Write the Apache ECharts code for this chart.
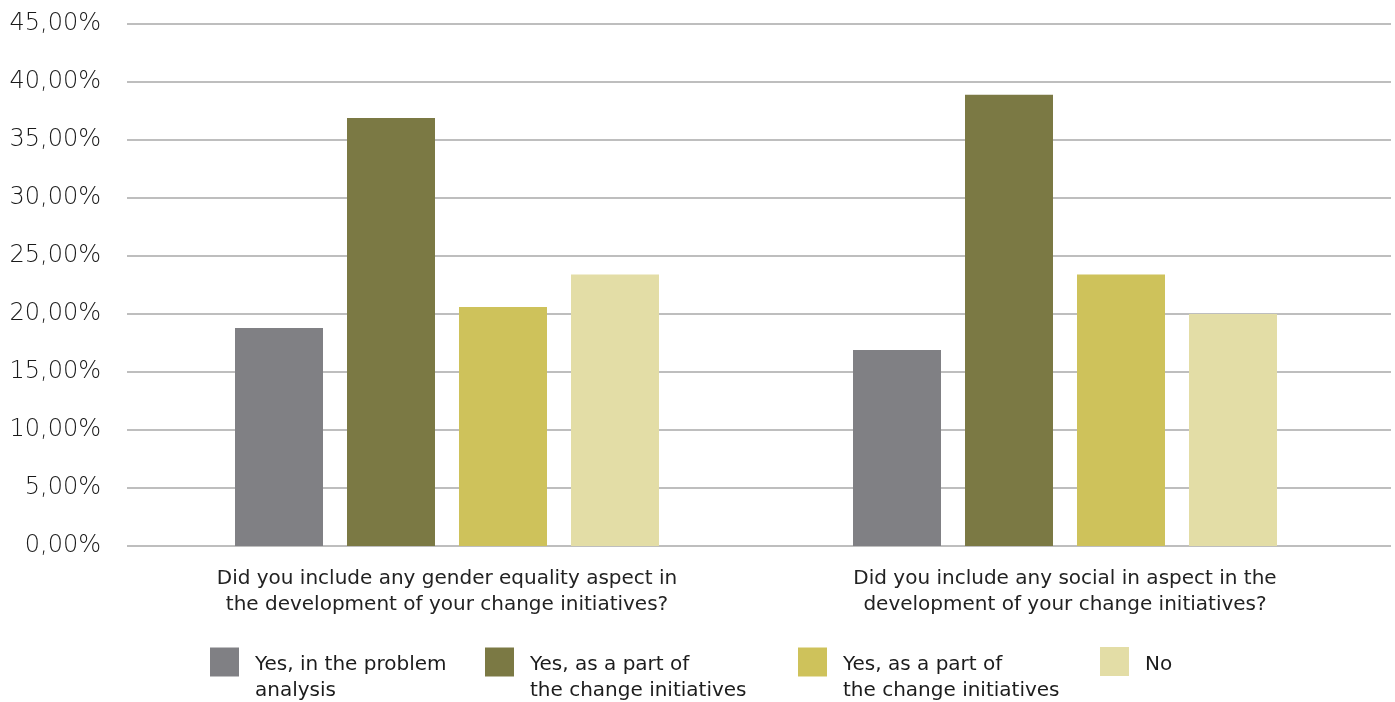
<!DOCTYPE html>
<html>
<head>
<meta charset="utf-8">
<script src="https://cdn.jsdelivr.net/npm/echarts@6/dist/echarts.min.js"></script>
<style>
  html, body { margin: 0; padding: 0; background: #ffffff; }
  #chart { width: 1395px; height: 702px; }
</style>
</head>
<body>
<div id="chart"></div>
<script>
// Survey answers per question (percent of respondents)
const categories = [
  'Did you include any gender equality aspect in\nthe development of your change initiatives?',
  'Did you include any social in aspect in the\ndevelopment of your change initiatives?'
];
const seriesKeys = ['problem', 'partA', 'partB', 'no'];
const legendLabels = [
  'Yes, in the problem\nanalysis',
  'Yes, as a part of\nthe change initiatives',
  'Yes, as a part of\nthe change initiatives',
  'No'
];
const valuesProblem = [18.8, 16.9];
const valuesPartA = [36.9, 38.9];
const valuesPartB = [20.6, 23.4];
const valuesNo = [23.4, 20.0];
const yTicks = [0, 5, 10, 15, 20, 25, 30, 35, 40, 45];

const colors = ['#808084', '#7b7944', '#cec25b', '#e3dda6'];
const seriesValues = [valuesProblem, valuesPartA, valuesPartB, valuesNo];
const yMin = yTicks[0], yMax = yTicks[yTicks.length - 1], yStep = yTicks[1] - yTicks[0];

const fmtPct = v => v.toFixed(2).replace('.', ',') + '%';
const labelFont = '"DejaVu Sans", "Noto Sans", sans-serif';

// Legend entries: first text line sits level with the swatch, second line below it
const legendLeft = [210, 485, 798, 1100];
const legends = seriesKeys.map((key, i) => {
  const twoLine = legendLabels[i].indexOf('\n') >= 0;
  const lines = legendLabels[i].split('\n');
  return {
    data: [key],
    left: legendLeft[i],
    top: twoLine ? 626 : 647,
    padding: 0,
    icon: 'rect',
    itemWidth: 29,
    itemHeight: 29,
    selectedMode: false,
    formatter: () => twoLine
      ? '{s| }\n' + lines.map(l => '{t|' + l + '}').join('\n')
      : '{n|' + lines[0] + '}',
    textStyle: {
      fontFamily: labelFont,
      fontSize: 20,
      color: '#1c1c1c',
      padding: [0, 0, 0, 11],
      rich: {
        s: { fontFamily: labelFont, fontSize: 20, lineHeight: 32 },
        t: { fontFamily: labelFont, fontSize: 20, color: '#1c1c1c', lineHeight: 26 },
        n: { fontFamily: labelFont, fontSize: 20, color: '#1c1c1c', padding: [6, 0, 0, 0] }
      }
    }
  };
});

const chart = echarts.init(document.getElementById('chart'), null, { renderer: 'canvas' });
chart.setOption({
  animation: false,
  backgroundColor: '#ffffff',
  color: colors,
  legend: legends,
  grid: [
    // bars
    { left: 138, right: 21, top: 24, bottom: 156 },
    // gridlines and value labels
    { left: 127, right: 4, top: 24, bottom: 156 }
  ],
  xAxis: [
    {
      gridIndex: 0,
      type: 'category',
      data: categories,
      axisLine: { show: false },
      axisTick: { show: false },
      axisLabel: {
        margin: 20,
        fontFamily: labelFont,
        fontSize: 20,
        lineHeight: 26,
        color: '#222222',
        interval: 0
      }
    },
    { gridIndex: 1, type: 'category', data: categories, show: false }
  ],
  yAxis: [
    { gridIndex: 0, type: 'value', min: yMin, max: yMax, interval: yStep, show: false },
    {
      gridIndex: 1,
      type: 'value',
      min: yMin,
      max: yMax,
      interval: yStep,
      axisLine: { show: false },
      axisTick: { show: false },
      splitLine: { lineStyle: { color: '#a8a8a8', width: 1.5 } },
      axisLabel: {
        margin: 26,
        fontFamily: labelFont,
        fontSize: 24,
        fontWeight: 200,
        color: '#1a1a1a',
        formatter: v => fmtPct(v)
      }
    }
  ],
  series: seriesKeys.map((key, i) => ({
    name: key,
    type: 'bar',
    xAxisIndex: 0,
    yAxisIndex: 0,
    data: seriesValues[i],
    barWidth: 88,
    barGap: '27.27%',
    itemStyle: { color: colors[i] }
  }))
});
</script>
</body>
</html>
